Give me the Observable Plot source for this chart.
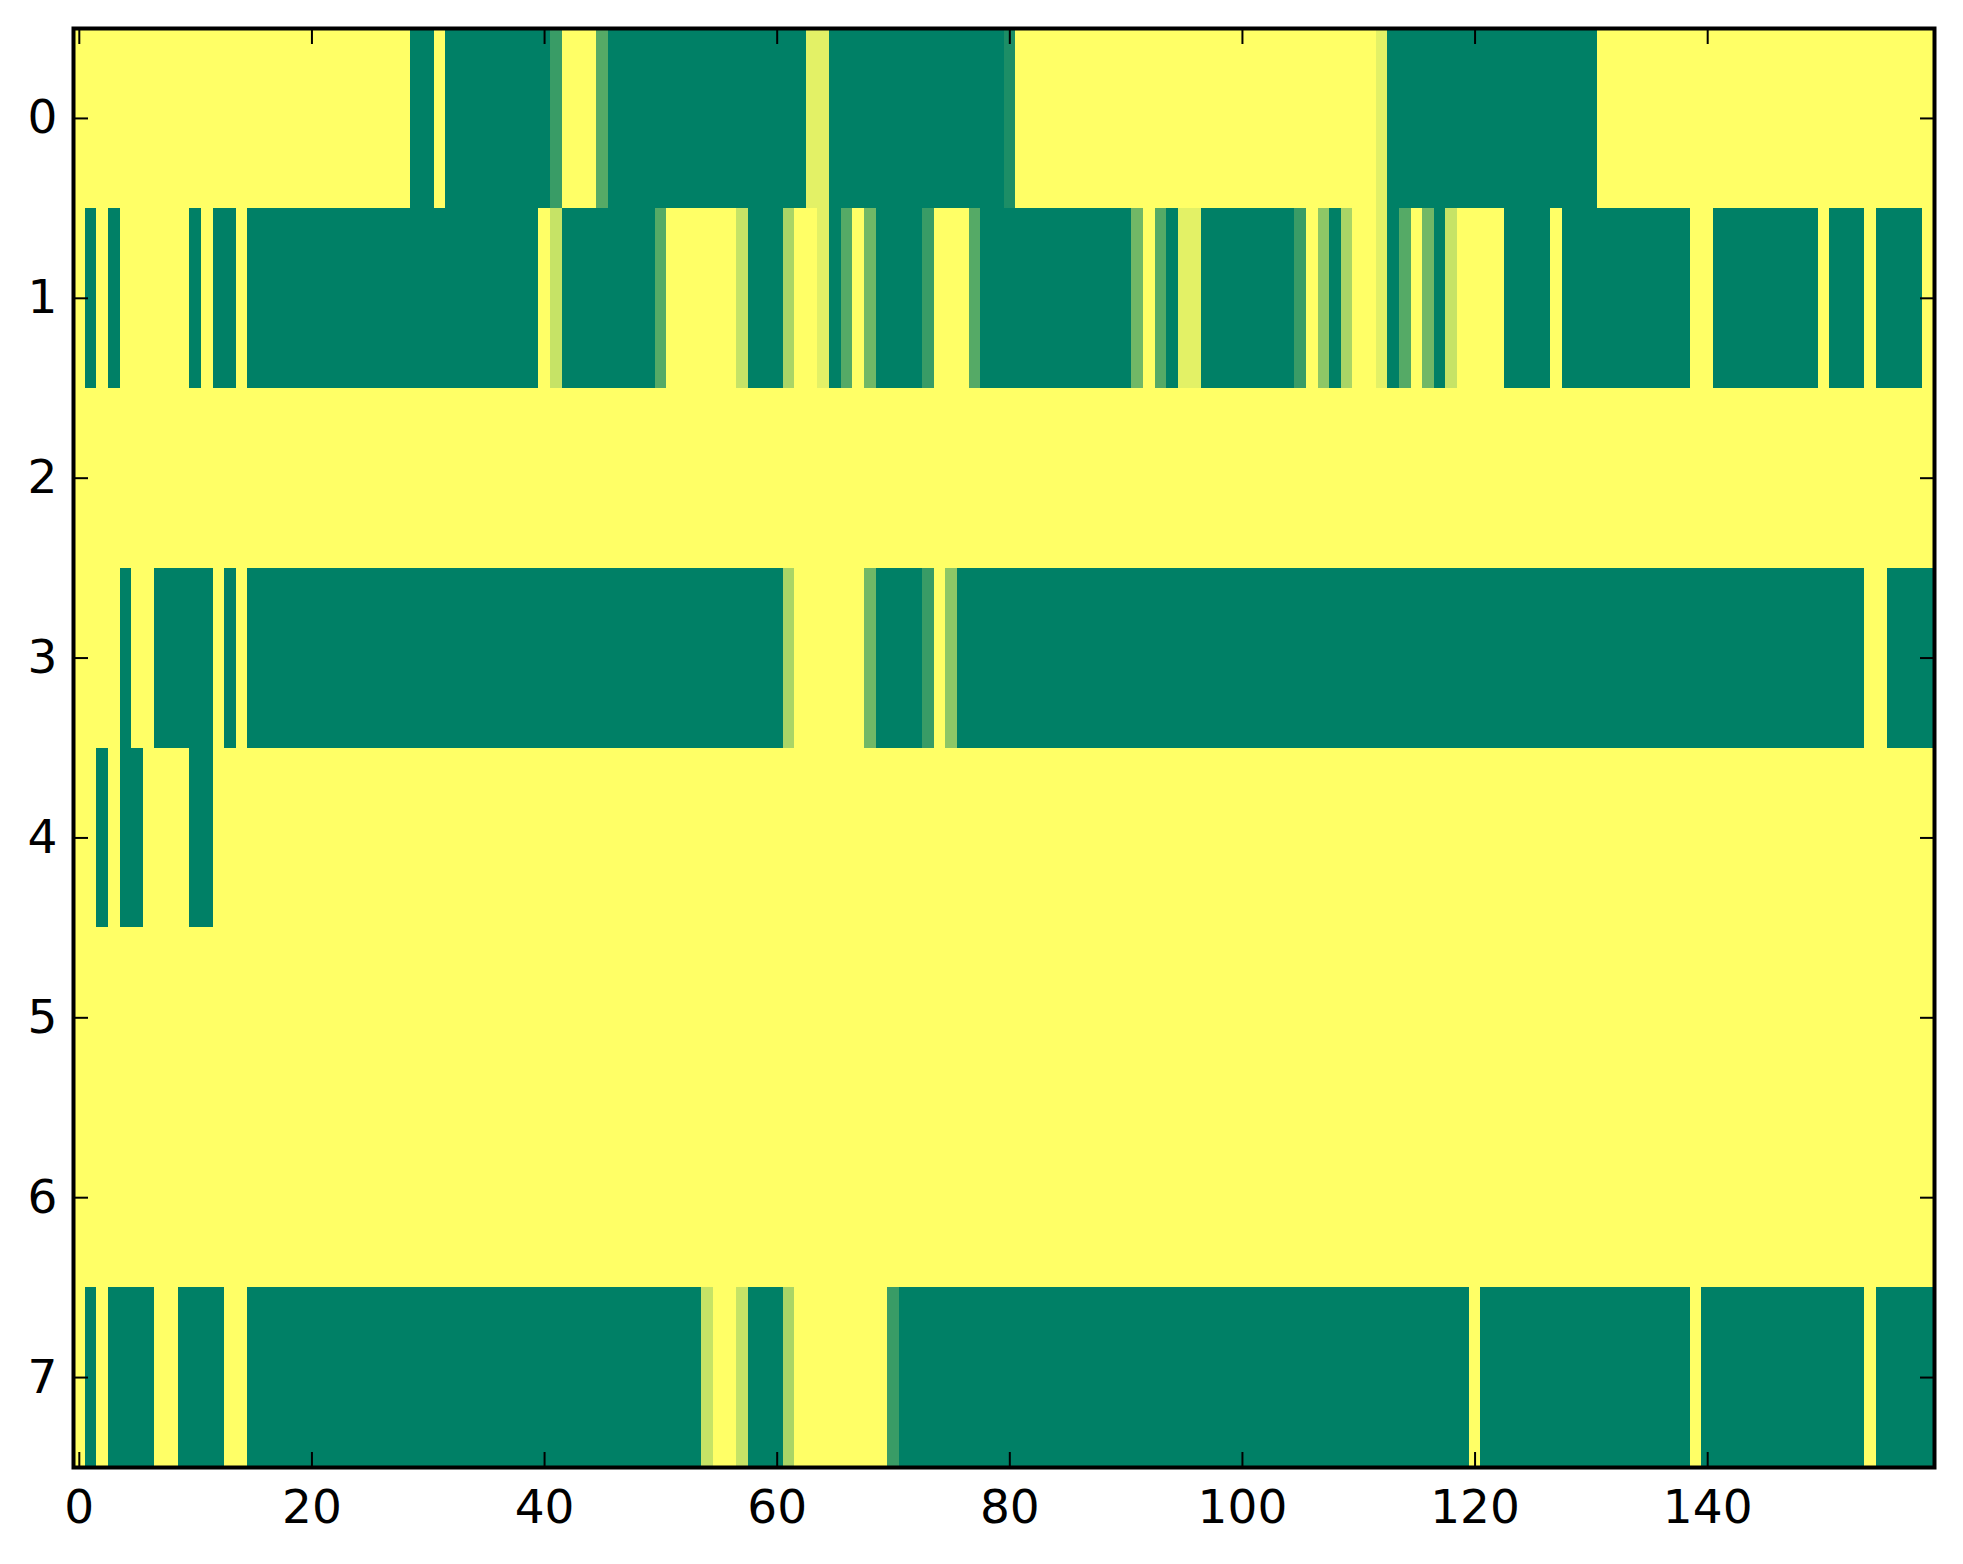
<!DOCTYPE html>
<html>
<head>
<meta charset="utf-8">
<script src="https://cdn.jsdelivr.net/npm/d3@7"></script>
<script src="https://cdn.jsdelivr.net/npm/@observablehq/plot@0.6"></script>
<style>
  html, body { margin: 0; padding: 0; background: #ffffff; }
  #chart svg { display: block; }
</style>
</head>
<body>
<div id="chart"></div>
<script>
// Levels 0..9 (0 = green end, 9 = yellow end of the "summer" colormap)
const row0 = [
  9,9,9,9,9,9,9,9,9,9, 9,9,9,9,9,9,9,9,9,9, 9,9,9,9,9,9,9,9,9,0, 0,9,0,0,0,0,0,0,0,0,
  0,2,9,9,9,3,0,0,0,0, 0,0,0,0,0,0,0,0,0,0, 0,0,0,8,8,0,0,0,0,0, 0,0,0,0,0,0,0,0,0,0,
  1,9,9,9,9,9,9,9,9,9, 9,9,9,9,9,9,9,9,9,9, 9,9,9,9,9,9,9,9,9,9, 9,9,8,0,0,0,0,0,0,0,
  0,0,0,0,0,0,0,0,0,0, 0,9,9,9,9,9,9,9,9,9, 9,9,9,9,9,9,9,9,9,9, 9,9,9,9,9,9,9,9,9,9
];
const row1 = [
  9,0,9,0,9,9,9,9,9,9, 0,9,0,0,9,0,0,0,0,0, 0,0,0,0,0,0,0,0,0,0, 0,0,0,0,0,0,0,0,0,0,
  9,7,0,0,0,0,0,0,0,0, 3,9,9,9,9,9,9,7,0,0, 0,6,9,9,8,0,3,9,4,0, 0,0,0,2,9,9,9,3,0,0,
  0,0,0,0,0,0,0,0,0,0, 0,4,9,3,0,8,8,0,0,0, 0,0,0,0,0,2,9,5,0,6, 9,9,8,0,3,9,4,0,7,9,
  9,9,9,0,0,0,0,9,0,0, 0,0,0,0,0,0,0,0,0,9, 9,0,0,0,0,0,0,0,0,0, 9,0,0,0,9,0,0,0,0,9
];
const row2 = [
  9,9,9,9,9,9,9,9,9,9, 9,9,9,9,9,9,9,9,9,9, 9,9,9,9,9,9,9,9,9,9, 9,9,9,9,9,9,9,9,9,9,
  9,9,9,9,9,9,9,9,9,9, 9,9,9,9,9,9,9,9,9,9, 9,9,9,9,9,9,9,9,9,9, 9,9,9,9,9,9,9,9,9,9,
  9,9,9,9,9,9,9,9,9,9, 9,9,9,9,9,9,9,9,9,9, 9,9,9,9,9,9,9,9,9,9, 9,9,9,9,9,9,9,9,9,9,
  9,9,9,9,9,9,9,9,9,9, 9,9,9,9,9,9,9,9,9,9, 9,9,9,9,9,9,9,9,9,9, 9,9,9,9,9,9,9,9,9,9
];
const row3 = [
  9,9,9,9,0,9,9,0,0,0, 0,0,9,0,9,0,0,0,0,0, 0,0,0,0,0,0,0,0,0,0, 0,0,0,0,0,0,0,0,0,0,
  0,0,0,0,0,0,0,0,0,0, 0,0,0,0,0,0,0,0,0,0, 0,6,9,9,9,9,9,9,4,0, 0,0,0,2,9,5,0,0,0,0,
  0,0,0,0,0,0,0,0,0,0, 0,0,0,0,0,0,0,0,0,0, 0,0,0,0,0,0,0,0,0,0, 0,0,0,0,0,0,0,0,0,0,
  0,0,0,0,0,0,0,0,0,0, 0,0,0,0,0,0,0,0,0,0, 0,0,0,0,0,0,0,0,0,0, 0,0,0,0,9,9,0,0,0,0
];
const row4 = [
  9,9,0,9,0,0,9,9,9,9, 0,0,9,9,9,9,9,9,9,9, 9,9,9,9,9,9,9,9,9,9, 9,9,9,9,9,9,9,9,9,9,
  9,9,9,9,9,9,9,9,9,9, 9,9,9,9,9,9,9,9,9,9, 9,9,9,9,9,9,9,9,9,9, 9,9,9,9,9,9,9,9,9,9,
  9,9,9,9,9,9,9,9,9,9, 9,9,9,9,9,9,9,9,9,9, 9,9,9,9,9,9,9,9,9,9, 9,9,9,9,9,9,9,9,9,9,
  9,9,9,9,9,9,9,9,9,9, 9,9,9,9,9,9,9,9,9,9, 9,9,9,9,9,9,9,9,9,9, 9,9,9,9,9,9,9,9,9,9
];
const row5 = [
  9,9,9,9,9,9,9,9,9,9, 9,9,9,9,9,9,9,9,9,9, 9,9,9,9,9,9,9,9,9,9, 9,9,9,9,9,9,9,9,9,9,
  9,9,9,9,9,9,9,9,9,9, 9,9,9,9,9,9,9,9,9,9, 9,9,9,9,9,9,9,9,9,9, 9,9,9,9,9,9,9,9,9,9,
  9,9,9,9,9,9,9,9,9,9, 9,9,9,9,9,9,9,9,9,9, 9,9,9,9,9,9,9,9,9,9, 9,9,9,9,9,9,9,9,9,9,
  9,9,9,9,9,9,9,9,9,9, 9,9,9,9,9,9,9,9,9,9, 9,9,9,9,9,9,9,9,9,9, 9,9,9,9,9,9,9,9,9,9
];
const row6 = [
  9,9,9,9,9,9,9,9,9,9, 9,9,9,9,9,9,9,9,9,9, 9,9,9,9,9,9,9,9,9,9, 9,9,9,9,9,9,9,9,9,9,
  9,9,9,9,9,9,9,9,9,9, 9,9,9,9,9,9,9,9,9,9, 9,9,9,9,9,9,9,9,9,9, 9,9,9,9,9,9,9,9,9,9,
  9,9,9,9,9,9,9,9,9,9, 9,9,9,9,9,9,9,9,9,9, 9,9,9,9,9,9,9,9,9,9, 9,9,9,9,9,9,9,9,9,9,
  9,9,9,9,9,9,9,9,9,9, 9,9,9,9,9,9,9,9,9,9, 9,9,9,9,9,9,9,9,9,9, 9,9,9,9,9,9,9,9,9,9
];
const row7 = [
  9,0,9,0,0,0,0,9,9,0, 0,0,0,9,9,0,0,0,0,0, 0,0,0,0,0,0,0,0,0,0, 0,0,0,0,0,0,0,0,0,0,
  0,0,0,0,0,0,0,0,0,0, 0,0,0,0,7,9,9,7,0,0, 0,6,9,9,9,9,9,9,9,9, 2,0,0,0,0,0,0,0,0,0,
  0,0,0,0,0,0,0,0,0,0, 0,0,0,0,0,0,0,0,0,0, 0,0,0,0,0,0,0,0,0,0, 0,0,0,0,0,0,0,0,0,0,
  9,0,0,0,0,0,0,0,0,0, 0,0,0,0,0,0,0,0,0,9, 0,0,0,0,0,0,0,0,0,0, 0,0,0,0,9,0,0,0,0,0
];
const rows = [row0, row1, row2, row3, row4, row5, row6, row7];
const xTicks = [0, 20, 40, 60, 80, 100, 120, 140];
const yTicks = [0, 1, 2, 3, 4, 5, 6, 7];

const table = [];
rows.forEach((r, row) => r.forEach((v, col) => table.push({row, col, v})));

const chart = Plot.plot({
  width: 1963,
  height: 1564,
  marginLeft: 73,
  marginRight: 29,
  marginTop: 28,
  marginBottom: 97,
  style: {fontFamily: "'DejaVu Sans', sans-serif", fontSize: "47px", color: "#000", background: "#fff"},
  x: {domain: [-0.5, 159.5]},
  y: {domain: [-0.5, 7.5], reverse: true},
  color: {type: "linear", domain: [0, 9], range: ["#008066", "#ffff66"], interpolate: "rgb"},
  marks: [
    Plot.rect(table, {
      x1: d => d.col - 0.5, x2: d => d.col + 0.5,
      y1: d => d.row - 0.5, y2: d => d.row + 0.5,
      fill: "v", shapeRendering: "crispEdges"
    }),
    Plot.axisX(xTicks, {anchor: "bottom", tickSize: 0, tickPadding: 22, label: null, fill: "#000", tickFormat: d => String(d)}),
    Plot.axisY(yTicks, {anchor: "left", tickSize: 0, tickPadding: 16, label: null, fill: "#000", tickFormat: d => String(d)}),
    Plot.axisX(xTicks, {anchor: "bottom", tickSize: -15, tickFormat: () => "", label: null, strokeWidth: 2}),
    Plot.axisX(xTicks, {anchor: "top", tickSize: -15, tickFormat: () => "", label: null, strokeWidth: 2}),
    Plot.axisY(yTicks, {anchor: "left", tickSize: -15, tickFormat: () => "", label: null, strokeWidth: 2}),
    Plot.axisY(yTicks, {anchor: "right", tickSize: -15, tickFormat: () => "", label: null, strokeWidth: 2}),
    Plot.frame({stroke: "#000", strokeWidth: 4})
  ]
});
document.getElementById("chart").appendChild(chart);
</script>
</body>
</html>
